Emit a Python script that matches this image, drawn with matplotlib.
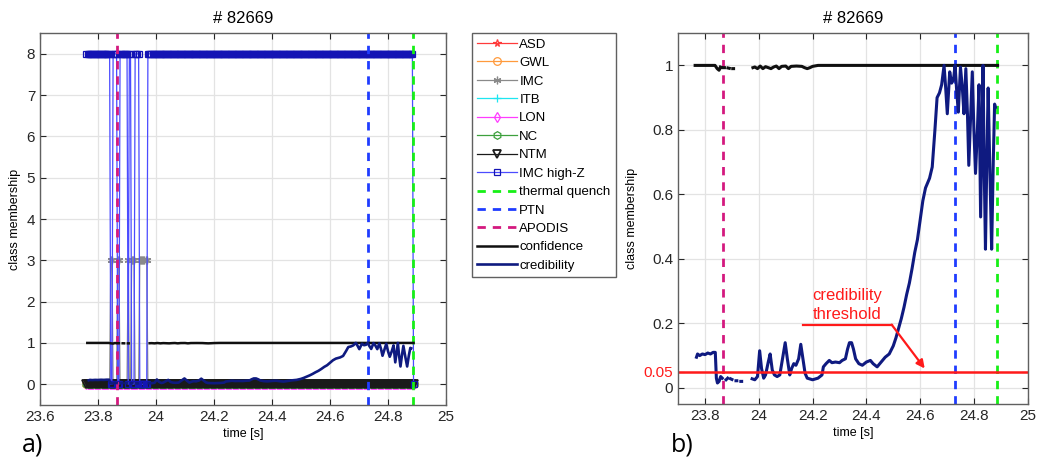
"""Class membership / credibility for shot #82669 (panels a and b)."""
import matplotlib
matplotlib.use("Agg")
import matplotlib.pyplot as plt
import numpy as np
from matplotlib.ticker import FormatStrFormatter

plt.rcParams["font.family"] = ["Liberation Sans", "DejaVu Sans"]

nan = np.nan

# sampling of the classifier output
t_first, t_last, t_step = 23.760, 24.888, 0.004

# intervals where IMC high-Z (class 8) is predicted; IMC (class 3) in between
imcz_start = [23.760, 23.852, 23.876, 23.906, 23.928, 23.972]
imcz_end = [23.842, 23.866, 23.902, 23.914, 23.944, 24.888]
switch_begin, switch_end = 23.842, 23.972

class_names = ["ASD", "GWL", "IMC", "ITB", "LON", "NC", "NTM", "IMC high-Z"]

# event times [s]
t_tq = 24.885
t_ptn = 24.731
t_apodis = 23.865

cred_t = [23.768, 23.772, 23.780, 23.790, 23.800, 23.810, 23.820, 23.830, 23.838,
          23.842, 23.846, 23.852, 23.858, 23.864, nan,
          23.878, 23.884, nan, 23.895, 23.900, nan, 23.915, 23.918, nan,
          23.933, 23.936, nan,
          23.975, 23.985, 23.995, 24.003, 24.010, 24.018, 24.025, 24.035, 24.042,
          24.050, 24.058, 24.068, 24.078, 24.088, 24.098, 24.106, 24.115, 24.122,
          24.130, 24.138, 24.148, 24.156, 24.164, 24.172, 24.180, 24.200, 24.220,
          24.235, 24.240, 24.250, 24.262, 24.272, 24.285, 24.300, 24.310, 24.322,
          24.330, 24.337, 24.345, 24.352, 24.360, 24.372, 24.385, 24.400, 24.415,
          24.425, 24.440, 24.455, 24.470, 24.485, 24.500, 24.510, 24.520, 24.530,
          24.540, 24.550, 24.560, 24.570, 24.580, 24.590, 24.600, 24.610, 24.620,
          24.635, 24.645, 24.655, 24.663, 24.672, 24.680, 24.689, 24.695, 24.701,
          24.710, 24.717, 24.724, 24.730, 24.736, 24.742, 24.750, 24.757, 24.763,
          24.770, 24.776, 24.781, 24.788, 24.794, 24.800, 24.806, 24.813, 24.819,
          24.825, 24.830, 24.834, 24.838, 24.843, 24.848, 24.853, 24.860, 24.866,
          24.872, 24.877, 24.880]
cred_v = [0.095, 0.105, 0.100, 0.105, 0.103, 0.108, 0.105, 0.110, 0.110,
          0.030, 0.015, 0.020, 0.035, 0.030, nan,
          0.025, 0.030, nan, 0.028, 0.026, nan, 0.022, 0.022, nan,
          0.020, 0.020, nan,
          0.028, 0.025, 0.035, 0.115, 0.060, 0.030, 0.040, 0.080, 0.105,
          0.055, 0.040, 0.035, 0.040, 0.090, 0.140, 0.090, 0.040, 0.060,
          0.075, 0.070, 0.090, 0.135, 0.090, 0.045, 0.030, 0.025, 0.030,
          0.040, 0.065, 0.075, 0.085, 0.078, 0.080, 0.078, 0.085, 0.090,
          0.120, 0.140, 0.140, 0.120, 0.090, 0.075, 0.070, 0.080, 0.085,
          0.075, 0.065, 0.080, 0.095, 0.105, 0.130, 0.155, 0.185, 0.215,
          0.250, 0.290, 0.325, 0.370, 0.420, 0.460, 0.520, 0.580, 0.620,
          0.650, 0.685, 0.800, 0.900, 0.915, 0.940, 1.000, 0.930, 0.850,
          0.980, 0.945, 0.955, 1.000, 0.920, 0.855, 0.995, 0.930, 0.850,
          0.990, 0.850, 0.690, 0.850, 0.980, 0.800, 0.665, 0.800, 0.940,
          0.530, 0.800, 1.000, 0.700, 0.430, 0.700, 0.930, 0.650, 0.430,
          0.700, 0.880, 0.870]

conf_t = [23.763, 23.837, 23.845, 23.852, 23.857, nan, 23.865, 23.872, nan,
          23.885, 23.890, nan, 23.903, 23.906, nan,
          23.978, 23.985, 23.995, 24.005, 24.015, 24.025, 24.035, 24.045, 24.055,
          24.065, 24.075, 24.085, 24.100, 24.110, 24.120, 24.140, 24.160, 24.170,
          24.180, 24.190, 24.200, 24.220, 24.888]
conf_v = [1.000, 1.000, 0.990, 0.985, 0.995, nan, 0.993, 0.993, nan,
          0.992, 0.991, nan, 0.990, 0.990, nan,
          0.993, 0.995, 0.990, 0.998, 0.990, 0.996, 0.993, 0.990, 0.995,
          0.998, 0.990, 0.997, 0.998, 0.990, 0.997, 0.998, 0.997, 0.993,
          0.990, 0.993, 0.997, 1.000, 1.000]

threshold = 0.05

# styles
class_style = {
    "ASD": dict(color="#ff3b3b", marker="*"),
    "GWL": dict(color="#ff9a3c", marker="o"),
    "IMC": dict(color="#8a8a8a", marker=(6, 2, 0)),
    "ITB": dict(color="#1ee6f0", marker="+"),
    "LON": dict(color="#ff3cff", marker="d"),
    "NC": dict(color="#3da03d", marker="h"),
    "NTM": dict(color="#1a1a1a", marker="v"),
    "IMC high-Z": dict(color="#4b4bff", marker="s", mec="#1414b4"),
}
c_tq, c_ptn, c_apodis = "#16f016", "#1f3cff", "#d4197f"
c_conf, c_cred = "#101010", "#0f1a80"


def build_classes():
    t = np.arange(t_first, t_last + 1e-9, t_step)
    imcz_on = np.zeros_like(t, dtype=bool)
    for a, b in zip(imcz_start, imcz_end):
        imcz_on |= (t >= a) & (t < b)
    in_switch = (t >= switch_begin) & (t < switch_end)
    series = {name: np.zeros_like(t) for name in class_names}
    series["IMC high-Z"] = np.where(imcz_on, 8.0, 0.0)
    series["IMC"] = np.where(in_switch & ~imcz_on, 3.0, 0.0)
    return t, series


def style_axes(ax):
    ax.grid(True, color="#e3e3e3", lw=0.9)
    ax.set_axisbelow(True)
    ax.tick_params(direction="in", top=True, right=True, labelsize=11,
                   colors="#262626", length=4, width=0.8)
    for s in ax.spines.values():
        s.set_color("#606060")
        s.set_linewidth(1.0)
    ax.set_title("# 82669", fontsize=12, pad=7)
    ax.set_xlabel("time [s]", fontsize=9, labelpad=3)
    ax.set_ylabel("class membership", fontsize=9, labelpad=4)


fig = plt.figure(figsize=(10.37, 4.67), dpi=100)
ax1 = fig.add_axes([0.0386, 0.133, 0.3915, 0.796])
ax2 = fig.add_axes([0.654, 0.135, 0.337, 0.794])

# ---- panel a) ----
t, series = build_classes()
for name in class_names:
    st = class_style[name]
    mew = 1.3 if name == "NTM" else 0.9
    ms = 4.8 if name == "IMC high-Z" else 5.5
    ax1.plot(t, series[name], color=st["color"], lw=0.9, marker=st["marker"],
             ms=ms, mfc="none", mec=st.get("mec", st["color"]), mew=mew,
             label=name)
ax1.axvline(t_tq, color=c_tq, ls="--", lw=2, dashes=(3, 2.5), label="thermal quench")
ax1.axvline(t_ptn, color=c_ptn, ls="--", lw=2, dashes=(3, 2.5), label="PTN")
ax1.axvline(t_apodis, color=c_apodis, ls="--", lw=2, dashes=(3, 2.5), label="APODIS")
ax1.plot(conf_t, conf_v, color=c_conf, lw=1.8, label="confidence")
ax1.plot(cred_t, cred_v, color=c_cred, lw=1.9, label="credibility")

ax1.set_xlim(23.6, 25.0)
ax1.set_ylim(-0.5, 8.5)
ax1.set_xticks(np.arange(23.6, 25.01, 0.2))
ax1.set_yticks(range(0, 9))
ax1.xaxis.set_major_formatter(FormatStrFormatter("%g"))
style_axes(ax1)

leg = ax1.legend(loc="upper left", bbox_to_anchor=(0.455, 0.929),
                 bbox_transform=fig.transFigure, fontsize=9.5, handlelength=3.0,
                 handletextpad=0.2, labelspacing=0.47, borderpad=0.4,
                 borderaxespad=0, fancybox=False, framealpha=1,
                 edgecolor="#606060")
leg.get_frame().set_linewidth(1.0)

# ---- panel b) ----
ax2.axvline(t_tq, color=c_tq, ls="--", lw=2, dashes=(3, 2.5))
ax2.axvline(t_ptn, color=c_ptn, ls="--", lw=2, dashes=(3, 2.5))
ax2.axvline(t_apodis, color=c_apodis, ls="--", lw=2, dashes=(3, 2.5))
ax2.plot(conf_t, conf_v, color=c_conf, lw=2.2)
ax2.plot(cred_t, cred_v, color=c_cred, lw=2.2)
ax2.axhline(threshold, color="#ff1a1a", lw=1.8)

ax2.set_xlim(23.7, 25.0)
ax2.set_ylim(-0.05, 1.1)
ax2.set_xticks(np.arange(23.8, 25.01, 0.2))
ax2.set_yticks([0, threshold, 0.2, 0.4, 0.6, 0.8, 1.0])
ax2.xaxis.set_major_formatter(FormatStrFormatter("%g"))
ax2.yaxis.set_major_formatter(FormatStrFormatter("%g"))
style_axes(ax2)
ax2.get_yticklabels()[1].set_color("#ff1a1a")

ax2.text(24.33, 0.257, "credibility\nthreshold", color="#ff1a1a", fontsize=12,
         ha="center", va="center", linespacing=1.3)
ax2.plot([24.163, 24.496], [0.195, 0.195], color="#ff1a1a", lw=1.6)
ax2.annotate("", xy=(24.617, 0.06), xytext=(24.494, 0.196),
             arrowprops=dict(arrowstyle="-|>", color="#ff1a1a", lw=1.6,
                             mutation_scale=12, shrinkA=0, shrinkB=0))

fig.text(0.021, 0.047, "a)", fontsize=18, family="Open Sans", va="center")
fig.text(0.647, 0.047, "b)", fontsize=18, family="Open Sans", va="center")

fig.savefig("out.png", dpi=100)
